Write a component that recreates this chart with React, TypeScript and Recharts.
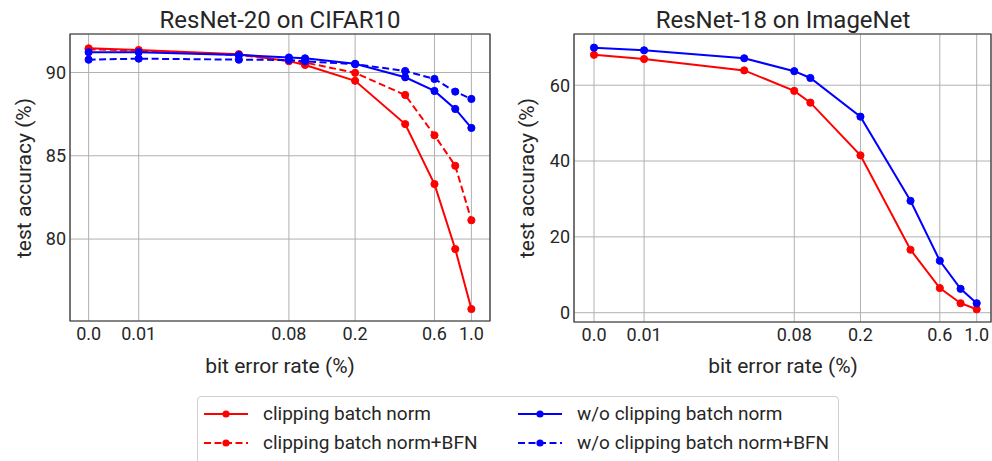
import React from "react";
import { LineChart, Line, XAxis, YAxis, CartesianGrid, ReferenceArea } from "recharts";

// ---- data ----
const bitErrorRates = [0, 0.01, 0.04, 0.08, 0.1, 0.2, 0.4, 0.6, 0.8, 1.0];
const xTickValues = [0, 0.01, 0.08, 0.2, 0.6, 1.0];
const xTickLabels = ["0.0", "0.01", "0.08", "0.2", "0.6", "1.0"];

const cifarClip = [91.45, 91.35, 91.1, 90.68, 90.45, 89.5, 86.9, 83.3, 79.4, 75.8];
const cifarClipBFN = [91.4, 91.3, 91.05, 90.7, 90.6, 89.98, 88.65, 86.23, 84.4, 81.13];
const cifarNoClip = [91.22, 91.22, 91.05, 90.9, 90.85, 90.52, 89.71, 88.89, 87.81, 86.67];
const cifarNoClipBFN = [90.77, 90.83, 90.77, 90.75, 90.67, 90.5, 90.09, 89.61, 88.85, 88.41];
const cifarYTicks = [80, 85, 90];

const imagenetClip = [68.0, 66.9, 63.9, 58.5, 55.4, 41.5, 16.6, 6.5, 2.5, 0.9];
const imagenetNoClip = [69.9, 69.2, 67.1, 63.7, 61.9, 51.7, 29.5, 13.7, 6.3, 2.5];
const imagenetYTicks = [0, 20, 40, 60];

const titles = ["ResNet-20 on CIFAR10", "ResNet-18 on ImageNet"];
const xLabel = "bit error rate (%)";
const yLabel = "test accuracy (%)";
const seriesNames = [
  "clipping batch norm",
  "clipping batch norm+BFN",
  "w/o clipping batch norm",
  "w/o clipping batch norm+BFN",
];

// ---- helpers ----
const ZERO_POS = 0.005; // where "0.0" sits on the log axis
const toAxis = (v: number) => (v === 0 ? ZERO_POS : v);

const RED = "#ff0000";
const BLUE = "#0000ff";
const FONT = "Roboto, 'DejaVu Sans', sans-serif";
const TEXT = "#262626";

const cifarRows = bitErrorRates.map((b, i) => ({
  x: toAxis(b),
  clip: cifarClip[i],
  clipBFN: cifarClipBFN[i],
  noClip: cifarNoClip[i],
  noClipBFN: cifarNoClipBFN[i],
}));
const imagenetRows = bitErrorRates.map((b, i) => ({
  x: toAxis(b),
  clip: imagenetClip[i],
  noClip: imagenetNoClip[i],
}));

const xTicks = xTickValues.map(toAxis);
const fmtX = (v: number) => {
  const i = xTicks.findIndex((t) => Math.abs(t - v) < 1e-9);
  return i >= 0 ? xTickLabels[i] : String(v);
};

const tickStyle = { fontSize: 18, fill: TEXT, fontFamily: FONT };

function series(key: string, color: string, dashed: boolean) {
  return (
    <Line
      key={key}
      type="linear"
      dataKey={key}
      stroke={color}
      strokeWidth={2}
      strokeDasharray={dashed ? "7 3.5" : undefined}
      dot={{ r: 3.6, fill: color, stroke: color, strokeWidth: 1, strokeDasharray: "0" }}
      isAnimationActive={false}
    />
  );
}

function Panel(props: {
  rows: any[];
  keys: { key: string; color: string; dashed: boolean }[];
  width: number;
  height: number;
  yAxisWidth: number;
  marginRight: number;
  xDomain: [number, number];
  yDomain: [number, number];
  yTicks: number[];
}) {
  const { rows, keys, width, height, yAxisWidth, marginRight, xDomain, yDomain, yTicks } = props;
  return (
    <LineChart
      width={width}
      height={height}
      data={rows}
      margin={{ top: 34, right: marginRight, bottom: 0, left: 0 }}
    >
      <CartesianGrid stroke="#b0b0b0" strokeWidth={1} />
      <XAxis
        dataKey="x"
        type="number"
        scale="log"
        domain={xDomain}
        allowDataOverflow
        ticks={xTicks}
        tickFormatter={fmtX}
        interval={0}
        height={59}
        axisLine={false}
        tickLine={false}
        tickSize={0}
        tickMargin={6}
        tick={tickStyle}
      />
      <YAxis
        type="number"
        domain={yDomain}
        allowDataOverflow
        ticks={yTicks}
        interval={0}
        width={yAxisWidth}
        axisLine={false}
        tickLine={false}
        tickSize={0}
        tickMargin={4}
        tick={tickStyle}
      />
      {keys.map((k) => series(k.key, k.color, k.dashed))}
      <ReferenceArea
        x1={xDomain[0]}
        x2={xDomain[1]}
        y1={yDomain[0]}
        y2={yDomain[1]}
        fill="none"
        stroke="#333333"
        strokeWidth={1.2}
        ifOverflow="visible"
      />
    </LineChart>
  );
}

function LegendSwatch({ color, dashed }: { color: string; dashed: boolean }) {
  return (
    <svg width={44} height={10} style={{ display: "block" }}>
      <line
        x1={0}
        y1={5}
        x2={44}
        y2={5}
        stroke={color}
        strokeWidth={2}
        strokeDasharray={dashed ? "7 3.5" : undefined}
      />
      <circle cx={22} cy={5} r={3.6} fill={color} />
    </svg>
  );
}

export default function App() {
  const textBase: React.CSSProperties = {
    position: "absolute",
    fontFamily: FONT,
    color: TEXT,
    whiteSpace: "nowrap",
  };
  const legendItems = [
    { name: seriesNames[0], color: RED, dashed: false, left: 204, top: 414 },
    { name: seriesNames[1], color: RED, dashed: true, left: 204, top: 443 },
    { name: seriesNames[2], color: BLUE, dashed: false, left: 518, top: 414 },
    { name: seriesNames[3], color: BLUE, dashed: true, left: 518, top: 443 },
  ];
  return (
    <div
      style={{
        position: "absolute",
        left: 0,
        top: 0,
        width: 992,
        height: 461,
        overflow: "hidden",
        background: "#fff",
      }}
    >
      <div style={{ position: "absolute", left: 0, top: 0 }}>
        <Panel
          rows={cifarRows}
          keys={[
            { key: "clip", color: RED, dashed: false },
            { key: "clipBFN", color: RED, dashed: true },
            { key: "noClip", color: BLUE, dashed: false },
            { key: "noClipBFN", color: BLUE, dashed: true },
          ]}
          width={500}
          height={380}
          yAxisWidth={70}
          marginRight={10}
          xDomain={[0.003864, 1.294]}
          yDomain={[75.08, 92.31]}
          yTicks={cifarYTicks}
        />
      </div>
      <div style={{ position: "absolute", left: 500, top: 0 }}>
        <Panel
          rows={imagenetRows}
          keys={[
            { key: "clip", color: RED, dashed: false },
            { key: "noClip", color: BLUE, dashed: false },
          ]}
          width={492}
          height={381}
          yAxisWidth={74}
          marginRight={1}
          xDomain={[0.00379, 1.219]}
          yDomain={[-2.45, 73.5]}
          yTicks={imagenetYTicks}
        />
      </div>

      {/* titles */}
      <div style={{ ...textBase, left: 80, width: 400, top: 6, fontSize: 24, lineHeight: "28px", textAlign: "center" }}>
        {titles[0]}
      </div>
      <div style={{ ...textBase, left: 583, width: 400, top: 6, fontSize: 24, lineHeight: "28px", textAlign: "center" }}>
        {titles[1]}
      </div>

      {/* x labels */}
      <div style={{ ...textBase, left: 80, width: 400, top: 353, fontSize: 21, lineHeight: "26px", textAlign: "center" }}>
        {xLabel}
      </div>
      <div style={{ ...textBase, left: 583, width: 400, top: 353, fontSize: 21, lineHeight: "26px", textAlign: "center" }}>
        {xLabel}
      </div>

      {/* y labels */}
      <div
        style={{
          ...textBase,
          left: 24,
          top: 178,
          fontSize: 21,
          lineHeight: "26px",
          transform: "translate(-50%, -50%) rotate(-90deg)",
        }}
      >
        {yLabel}
      </div>
      <div
        style={{
          ...textBase,
          left: 527,
          top: 178,
          fontSize: 21,
          lineHeight: "26px",
          transform: "translate(-50%, -50%) rotate(-90deg)",
        }}
      >
        {yLabel}
      </div>

      {/* legend */}
      <div
        style={{
          position: "absolute",
          left: 197,
          top: 396,
          width: 640,
          height: 80,
          border: "1px solid #d0d0d0",
          borderRadius: 4,
          background: "rgba(255,255,255,0.8)",
        }}
      />
      {legendItems.map((it) => (
        <div key={it.name}>
          <div style={{ position: "absolute", left: it.left, top: it.top - 5 }}>
            <LegendSwatch color={it.color} dashed={it.dashed} />
          </div>
          <div
            style={{
              ...textBase,
              left: it.left + 59,
              top: it.top - 12,
              fontSize: 19,
              lineHeight: "24px",
            }}
          >
            {it.name}
          </div>
        </div>
      ))}
    </div>
  );
}
